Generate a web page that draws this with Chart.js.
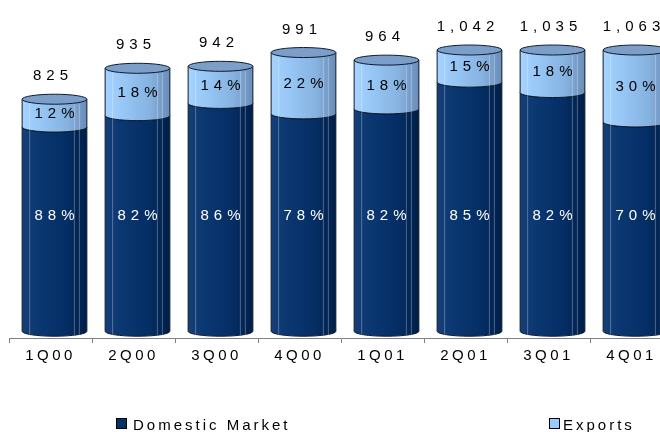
<!DOCTYPE html>
<html>
<head>
<meta charset="utf-8">
<script src="https://cdn.jsdelivr.net/npm/chart.js@4.4.1/dist/chart.umd.min.js"></script>
<style>
  html, body { margin: 0; padding: 0; background: #fff; overflow: hidden; }
  #wrap { position: relative; width: 680px; height: 432px; }
</style>
</head>
<body>
<div id="wrap"><canvas id="chart"></canvas></div>
<script>
// data
const quarters = ['1Q00', '2Q00', '3Q00', '4Q00', '1Q01', '2Q01', '3Q01', '4Q01'];
const totals = [825, 935, 942, 991, 964, 1042, 1035, 1063];
const domesticPct = [88, 82, 86, 78, 82, 85, 82, 70];
const exportsPct = [12, 18, 14, 22, 18, 15, 18, 30];

const domesticValues = totals.map((t, i) => t * domesticPct[i] / 100);
const exportsValues = totals.map((t, i) => t * exportsPct[i] / 100);

const NAVY = '#003366';
const LIGHT = '#99ccff';
const FONT = '"Liberation Sans", Arial, sans-serif';
const SHIFT = 4;   // bars sit a little right of the category centre
const RY = 5;      // half height of the cylinder ellipses

function bodyGradient(ctx, left, right, stops) {
    const g = ctx.createLinearGradient(left, 0, right, 0);
    stops.forEach(s => g.addColorStop(s[0], s[1]));
    return g;
}

const cylinders = {
    id: 'cylinders',
    beforeDatasetDraw() {
        return false; // we paint the bars ourselves below
    },
    afterDatasetsDraw(chart) {
        const ctx = chart.ctx;
        const area = chart.chartArea;
        const dom = chart.getDatasetMeta(0).data;
        const exp = chart.getDatasetMeta(1).data;
        ctx.save();
        ctx.translate(SHIFT, 0);
        ctx.lineWidth = 1;
        ctx.strokeStyle = '#0d1a2e';
        dom.forEach((d, i) => {
            const e = exp[i];
            const cx = d.x;
            const rx = d.width / 2;
            const left = cx - rx, right = cx + rx;
            const base = d.base;
            const mid = d.y;
            const top = Math.max(e.y, area.top);

            // domestic body
            ctx.beginPath();
            ctx.moveTo(left, mid);
            ctx.ellipse(cx, mid, rx, RY, 0, Math.PI, 0, true);
            ctx.lineTo(right, base);
            ctx.ellipse(cx, base, rx, RY, 0, 0, Math.PI, false);
            ctx.closePath();
            ctx.fillStyle = bodyGradient(ctx, left, right, [
                [0, '#143f78'], [0.3, '#0a3670'], [0.7, '#042d63'], [1, '#001e48']
            ]);
            ctx.fill();
            ctx.stroke();

            // exports body
            ctx.beginPath();
            ctx.moveTo(left, top);
            ctx.lineTo(left, mid);
            ctx.ellipse(cx, mid, rx, RY, 0, Math.PI, 0, true);
            ctx.lineTo(right, top);
            ctx.closePath();
            ctx.fillStyle = bodyGradient(ctx, left, right, [
                [0, '#a6d3ff'], [0.3, '#96c6f5'], [0.7, '#86b2df'], [1, '#6a8cb8']
            ]);
            ctx.fill();
            ctx.stroke();

            // thin highlight lines on the sides
            ctx.save();
            ctx.strokeStyle = 'rgba(255,255,255,0.3)';
            [left + 7, right - 13, right - 8].forEach(lx => {
                ctx.beginPath();
                ctx.moveTo(lx + 0.5, top + RY);
                ctx.lineTo(lx + 0.5, base + RY - 1);
                ctx.stroke();
            });
            ctx.restore();

            // top lid
            ctx.beginPath();
            ctx.ellipse(cx, top, rx, RY, 0, 0, Math.PI * 2);
            ctx.fillStyle = '#7c9fca';
            ctx.fill();
            ctx.stroke();
        });
        ctx.restore();
    },
    afterDraw(chart) {
        const ctx = chart.ctx;
        const area = chart.chartArea;
        const dom = chart.getDatasetMeta(0).data;
        const exp = chart.getDatasetMeta(1).data;
        ctx.save();
        ctx.textAlign = 'center';
        ctx.textBaseline = 'middle';
        ctx.letterSpacing = '5px';
        ctx.font = '15px ' + FONT;
        dom.forEach((d, i) => {
            const e = exp[i];
            const cx = d.x + SHIFT + 2.5;
            const top = Math.max(e.y, area.top);
            // total above the cylinder
            ctx.fillStyle = '#000';
            ctx.fillText(totals[i].toLocaleString('en-US'), cx - 4, top - 23);
            // exports share
            ctx.fillText(exportsPct[i] + '%', cx, (top + d.y) / 2 + 1);
            // domestic share
            ctx.fillStyle = '#fff';
            ctx.fillText(domesticPct[i] + '%', cx, d.base - 115);
        });

        // legend, spread like the original
        ctx.textAlign = 'left';
        ctx.textBaseline = 'alphabetic';
        ctx.letterSpacing = '3px';
        ctx.font = '15px ' + FONT;
        const items = [
            [chart.data.datasets[0].label, NAVY, 116, 133],
            [chart.data.datasets[1].label, LIGHT, 549, 563]
        ];
        items.forEach(([label, color, x, tx]) => {
            ctx.fillStyle = color;
            ctx.fillRect(x, 418, 11, 11);
            ctx.strokeStyle = '#000';
            ctx.lineWidth = 1;
            ctx.strokeRect(x + 0.5, 418.5, 10, 10);
            ctx.fillStyle = '#000';
            ctx.fillText(label, tx, 430);
        });
        ctx.restore();
    }
};

const spacing = {
    id: 'spacing',
    beforeUpdate(chart) { chart.ctx.letterSpacing = '3.5px'; },
    beforeDraw(chart) { chart.ctx.letterSpacing = '3.5px'; }
};

new Chart(document.getElementById('chart'), {
    type: 'bar',
    data: {
        labels: quarters,
        datasets: [
            { label: 'Domestic Market', data: domesticValues, backgroundColor: NAVY },
            { label: 'Exports', data: exportsValues, backgroundColor: LIGHT }
        ]
    },
    options: {
        responsive: true,
        maintainAspectRatio: false,
        animation: false,
        events: [],
        layout: { padding: { left: 9, right: 7, top: 50, bottom: 63 } },
        datasets: { bar: { categoryPercentage: 1, barPercentage: 0.78 } },
        plugins: { legend: { display: false }, tooltip: { enabled: false } },
        scales: {
            x: {
                stacked: true,
                grid: { drawOnChartArea: false, tickLength: 5, color: '#808080' },
                border: { color: '#808080' },
                ticks: { color: '#000', font: { family: FONT, size: 15 }, padding: 4, maxRotation: 0 }
            },
            y: {
                stacked: true,
                display: false,
                min: -24,
                max: 1000
            }
        }
    },
    plugins: [spacing, cylinders]
});
</script>
</body>
</html>
